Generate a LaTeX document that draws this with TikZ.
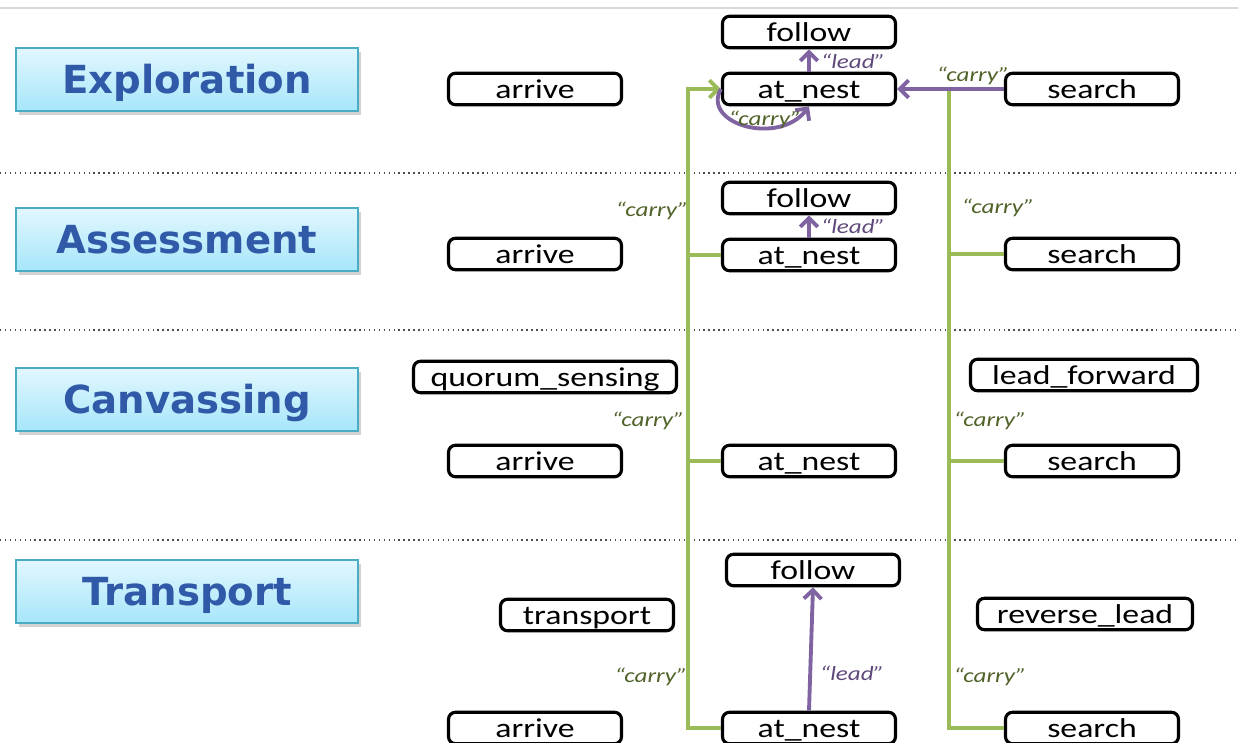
\documentclass[tikz,border=0pt]{standalone}
\usepackage{fontspec}
\setmainfont{Carlito}[FakeStretch=1.24]
\newfontfamily\phasefont{DejaVu Sans}
\usetikzlibrary{arrows.meta,shadows,calc}

\definecolor{carrygreen}{HTML}{9BBB59}
\definecolor{carrytext}{HTML}{4F6228}
\definecolor{leadpurple}{HTML}{8064A2}
\definecolor{leadtext}{HTML}{5F497A}
\definecolor{phaseedge}{HTML}{4BACC6}
\definecolor{phasetop}{HTML}{E2F7FE}
\definecolor{phasebot}{HTML}{A6E6FA}
\definecolor{phaseink}{HTML}{3059A8}

\tikzset{
  behav/.style={draw=black, line width=1.8pt, rounded corners=4pt, minimum width=3.46cm, minimum height=0.63cm, inner sep=0pt, text height=13.6pt, text depth=3pt, font=\fontsize{15.5}{17}\selectfont},
  phase/.style={draw=phaseedge, line width=1pt, top color=phasetop, bottom color=phasebot, minimum width=6.84cm, minimum height=1.26cm, drop shadow={shadow xshift=1.5pt, shadow yshift=-2pt, opacity=0.35}, text height=16pt, text depth=0pt, font=\phasefont\bfseries\fontsize{22}{24}\selectfont, text=phaseink},
  carryline/.style={draw=carrygreen, line width=2.2pt},
  leadline/.style={draw=leadpurple, line width=2.2pt},
  barb/.style={-{Straight Barb[length=5pt,width=10pt]}},
  carrylabel/.style={text=carrytext, font=\itshape\fontsize{11.5}{13}\selectfont, inner sep=1pt},
  leadlabel/.style={text=leadtext, font=\itshape\fontsize{11.5}{13}\selectfont, inner sep=1pt},
  rowsep/.style={black!70, dotted, line width=0.8pt},
}

\begin{document}
\begin{tikzpicture}[x=0.02cm, y=-0.02cm]
    \useasboundingbox (0,0) rectangle (1238,743);
    \draw[black!15, line width=1.5pt] (0,8) -- (1238,8);
    \draw[rowsep] (0,173) -- (1238,173);
    \draw[rowsep] (0,330) -- (1238,330);
    \draw[rowsep] (0,540) -- (1238,540);

    \node[phase] (exploration) at (187,79.5) {Exploration};
    \node[phase] (assessment) at (187,239.5) {Assessment};
    \node[phase] (canvassing) at (187,399.5) {Canvassing};
    \node[phase] (transport) at (187,591.5) {Transport};

    \node[behav] (follow1) at (809,32) {follow};
    \node[behav] (arrive1) at (535,89) {arrive};
    \node[behav] (atnest1) at (809,89) {at\_nest};
    \node[behav] (search1) at (1092,89) {search};

    \node[behav] (follow2) at (809,198) {follow};
    \node[behav] (arrive2) at (535,254) {arrive};
    \node[behav] (atnest2) at (809,255) {at\_nest};
    \node[behav] (search2) at (1092,254) {search};

    \node[behav, minimum width=5.26cm] (quorum) at (545,377) {quorum\_sensing};
    \node[behav, minimum width=4.54cm] (leadfwd) at (1084,375) {lead\_forward};
    \node[behav] (arrive3) at (535,461) {arrive};
    \node[behav] (atnest3) at (809,461) {at\_nest};
    \node[behav] (search3) at (1092,461) {search};

    \node[behav] (follow4) at (813,570) {follow};
    \node[behav] (transp) at (587,615) {transport};
    \node[behav, minimum width=4.3cm] (revlead) at (1085,614) {reverse\_lead};
    \node[behav] (arrive4) at (535,728) {arrive};
    \node[behav] (atnest4) at (809,728) {at\_nest};
    \node[behav] (search4) at (1092,728) {search};

    \draw[carryline, barb] (atnest4.west) -- ++(-33,0) |- (atnest1.west);
    \draw[carryline] (atnest2.west) -- ++(-33,0);
    \draw[carryline] (atnest3.west) -- ++(-33,0);
    \draw[carryline] (search4.west) -- ++(-55,0) -- ($(search1.west)+(-55,0)$);
    \draw[carryline] (search2.west) -- ++(-55,0);
    \draw[carryline] (search3.west) -- ++(-55,0);

    \draw[leadline, barb] (search1.west) -- (atnest1.east);
    \draw[leadline, barb] (atnest1.west) .. controls +(-20,35) and +(-30,40) .. (atnest1.south);
    \draw[leadline, barb] (atnest1.north) -- (follow1.south);
    \draw[leadline, barb] (atnest2.north) -- (follow2.south);
    \draw[leadline, barb] (atnest4.north) -- (follow4.south);

    \node[carrylabel] at (973,76) {“carry”};
    \node[carrylabel] at (765,120) {“carry”};
    \node[leadlabel] at (853,61) {“lead”};
    \node[carrylabel] at (652,211) {“carry”};
    \node[carrylabel] at (998,208) {“carry”};
    \node[leadlabel] at (853,226) {“lead”};
    \node[carrylabel] at (648,421) {“carry”};
    \node[carrylabel] at (990,421) {“carry”};
    \node[carrylabel] at (651,677) {“carry”};
    \node[carrylabel] at (990,677) {“carry”};
    \node[leadlabel] at (852,673) {“lead”};
\end{tikzpicture}
\end{document}
